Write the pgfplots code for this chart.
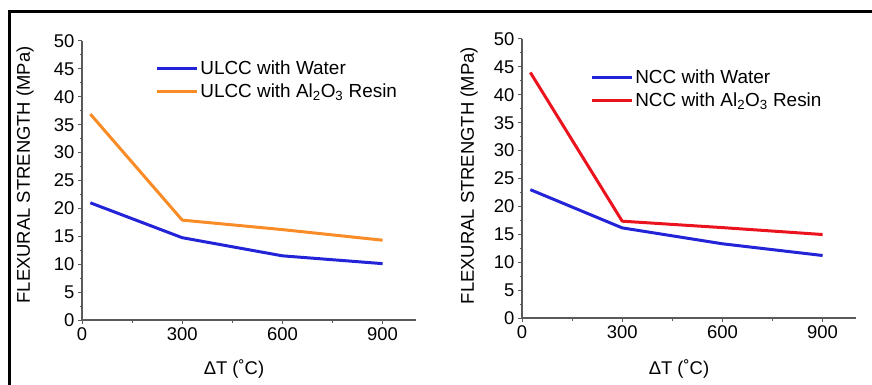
\documentclass[border=0pt]{standalone}
\usepackage{fontspec}
\setmainfont{Liberation Sans}
\usepackage{pgfplots}
\pgfplotsset{compat=1.18}
\definecolor{axgray}{RGB}{90,90,90}
\definecolor{cblue}{RGB}{35,35,215}
\definecolor{corange}{RGB}{250,140,40}
\definecolor{cred}{RGB}{235,20,30}
\pgfplotsset{
  myax/.style={
    scale only axis, width=334bp, height=279bp,
    xmin=0, xmax=1000, ymin=0, ymax=50,
    axis x line=bottom, axis y line=left,
    hide obscured x ticks=false, hide obscured y ticks=false,
    axis line style={-, line width=1.2bp, color=axgray},
    xtick={0,300,600,900}, ytick={0,5,...,50},
    minor x tick num=1, minor y tick num=1,
    tick align=outside, major tick length=4bp, minor tick length=2.5bp,
    tick style={axgray, line width=1bp},
    ticklabel style={font=\fontsize{18.5}{21}\selectfont},
    /pgf/number format/assume math mode=true,
    label style={font=\fontsize{18.5}{22}\selectfont},
    ylabel={FLEXURAL STRENGTH (MPa)},
    xlabel={ΔT (˚C)},
    legend style={draw=none, fill=none, inner sep=0pt, anchor=north west,
      font=\fontsize{19}{22.6}\selectfont, row sep=3.6bp,
      /tikz/every even column/.append style={column sep=5bp}},
    legend cell align=left,
    legend image code/.code={\draw[#1, line width=3bp] (0bp,0bp) -- (40bp,0bp);},
    every axis plot/.append style={line width=3bp, line join=round},
  }
}
\begin{document}
\begin{tikzpicture}
\path[use as bounding box] (0,0) rectangle (872bp,385bp);
\draw[line width=3bp] (9bp,0bp) -- (9bp,373.5bp) -- (872bp,373.5bp);
\begin{axis}[myax, at={(82bp,65bp)}, anchor=south west,
  xlabel style={at={(axis description cs:0.455,0)}, anchor=center, yshift=-49bp},
  ylabel style={at={(axis description cs:0,0.52)}, anchor=center, rotate=0, yshift=57bp},
  legend style={at={(axis description cs:0.219,0.937)}}]
\addplot[cblue] coordinates {(25,21.0) (300,14.75) (600,11.5) (900,10.1)};
\addlegendentry{ULCC with Water}
\addplot[corange] coordinates {(25,36.9) (300,17.9) (600,16.2) (900,14.3)};
\addlegendentry{ULCC with Al\textsubscript{2}O\textsubscript{3} Resin}
\end{axis}
\begin{axis}[myax, at={(522bp,67bp)}, anchor=south west,
  xlabel style={at={(axis description cs:0.47,0)}, anchor=center, yshift=-51bp},
  ylabel style={at={(axis description cs:0,0.51)}, anchor=center, yshift=53bp},
  legend style={at={(axis description cs:0.204,0.897)}}]
\addplot[cblue] coordinates {(25,23.0) (300,16.15) (600,13.3) (900,11.2)};
\addlegendentry{NCC with Water}
\addplot[cred] coordinates {(25,44.0) (300,17.35) (600,16.2) (900,14.96)};
\addlegendentry{NCC with Al\textsubscript{2}O\textsubscript{3} Resin}
\end{axis}
\end{tikzpicture}
\end{document}
